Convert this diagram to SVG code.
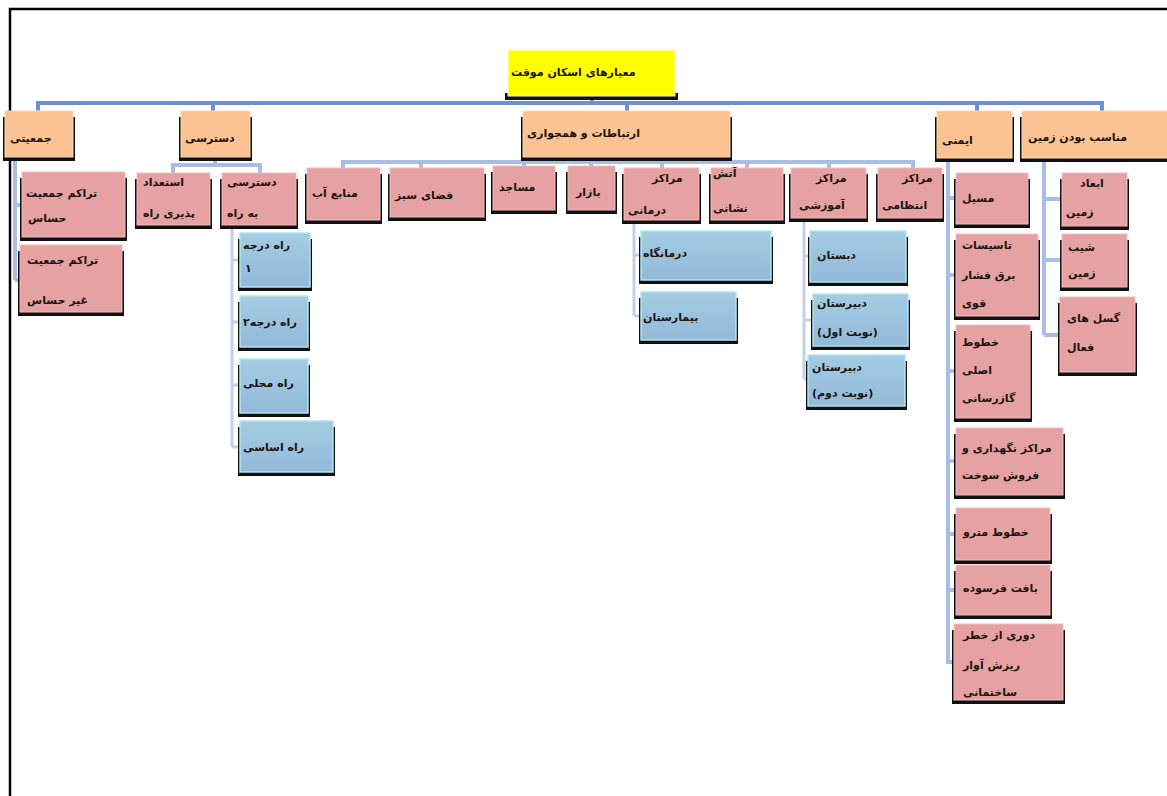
<svg xmlns="http://www.w3.org/2000/svg" width="1167" height="796" viewBox="0 0 1167 796">
<style>
.sh{fill:#111}
.root{fill:#ffff00;stroke:#fffbe0;stroke-width:1}
.or{fill:#fac391;stroke:#fcd8b4;stroke-width:1}
.pk{fill:#e6a2a2;stroke:#efbcbc;stroke-width:1}
.bl{fill:url(#gb);stroke:#b4e4ec;stroke-width:1.5}
text{font-family:"DejaVu Sans","Noto Sans",sans-serif;font-size:11px;font-weight:bold;fill:#1c1410}
.l1{fill:none;stroke:#6e8fd6;stroke-width:4}
.l2{fill:none;stroke:#a9bde6;stroke-width:4}
.l3{fill:none;stroke:#c3d0ea;stroke-width:3}
</style>
<defs>
<linearGradient id="gb" x1="0" y1="0" x2="0" y2="1">
<stop offset="0" stop-color="#a3cde3"/>
<stop offset="1" stop-color="#93b9da"/>
</linearGradient>
</defs>
<rect x="0" y="0" width="1167" height="796" fill="#fff"/>
<path d="M10 796 V9 H1167" fill="none" stroke="#000" stroke-width="2.5"/>

<g id="connectors">
<path class="l1" d="M38 111 V103 H1102 V111 M592 97 V103 M213 103 V111 M627 103 V111 M977 103 V111"/>
<path class="l2" d="M343 168 V162 H913 V168 M627 157 V162 M421 162 V168 M524 162 V166 M591 162 V166 M662 162 V168 M747 162 V168 M829 162 V168"/>
<path class="l2" d="M173 173 V165 H260 V173 M215 157 V165"/>
<path class="l2" d="M15 160 V280 M15 205 H22 M15 280 H20"/>
<path class="l3" d="M232 227 V447 M232 260 H240 M232 322 H240 M232 385 H240 M232 447 H240"/>
<path class="l3" d="M634 222 V316 M634 255 H641 M634 316 H641"/>
<path class="l3" d="M804 220 V379 M804 256 H810 M804 320 H813 M804 379 H808"/>
<path class="l2" d="M948 158 V664 M948 198 H956 M948 275 H956 M948 371 H956 M948 461 H956 M948 534 H956 M948 590 H956 M948 662 H954"/>
<path class="l2" d="M1044 158 V335 M1044 199 H1062 M1044 260 H1062 M1044 335 H1060"/>
</g>

<g id="n-root"><rect class="sh" x="505" y="93" width="173" height="7"/><rect class="root" x="508" y="50" width="167" height="46"/><text x="511" y="76">معیارهای اسکان موقت</text></g>

<g id="n-jamiyati"><rect class="sh" x="3" y="117" width="72" height="44"/><rect class="or" x="5" y="111" width="68" height="46"/><text x="10" y="142">جمعیتی</text></g>
<g id="n-dastresi"><rect class="sh" x="179" y="117" width="73" height="44"/><rect class="or" x="181" y="111" width="69" height="46"/><text x="185" y="142">دسترسی</text></g>
<g id="n-ertebatat"><rect class="sh" x="521" y="117" width="211" height="44"/><rect class="or" x="523" y="111" width="207" height="46"/><text x="527" y="137">ارتباطات و همجواری</text></g>
<g id="n-imeni"><rect class="sh" x="935" y="117" width="79" height="45"/><rect class="or" x="937" y="111" width="75" height="47"/><text x="942" y="144">ایمنی</text></g>
<g id="n-monaseb"><rect class="sh" x="1020" y="117" width="149" height="45"/><rect class="or" x="1022" y="111" width="147" height="47"/><text x="1028" y="141">مناسب بودن زمین</text></g>

<g id="n-tarakom1"><rect class="sh" x="20" y="178" width="107" height="63"/><rect class="pk" x="22" y="172" width="103" height="65"/><text x="26" y="197">تراکم جمعیت</text><text x="28" y="222">حساس</text></g>
<g id="n-tarakom2"><rect class="sh" x="18" y="251" width="106" height="65"/><rect class="pk" x="20" y="245" width="102" height="67"/><text x="27" y="264">تراکم جمعیت</text><text x="27" y="304">غیر حساس</text></g>

<g id="n-esteedad"><rect class="sh" x="135" y="179" width="77" height="50"/><rect class="pk" x="137" y="173" width="73" height="52"/><text x="143" y="186">استعداد</text><text x="143" y="217">پذیری راه</text></g>
<g id="n-dastresi-rah"><rect class="sh" x="220" y="179" width="78" height="50"/><rect class="pk" x="222" y="173" width="74" height="52"/><text x="227" y="186">دسترسی</text><text x="227" y="217">به راه</text></g>

<g id="n-rah1"><rect class="sh" x="238" y="239" width="74" height="52"/><rect class="bl" x="240" y="233" width="70" height="54"/><text x="243" y="249">راه درجه</text><text x="245" y="272">۱</text></g>
<g id="n-rah2"><rect class="sh" x="238" y="302" width="72" height="49"/><rect class="bl" x="240" y="296" width="68" height="51"/><text x="243" y="326">راه درجه۲</text></g>
<g id="n-rahmahali"><rect class="sh" x="238" y="365" width="72" height="52"/><rect class="bl" x="240" y="359" width="68" height="54"/><text x="243" y="387">راه محلی</text></g>
<g id="n-rahasasi"><rect class="sh" x="238" y="427" width="97" height="49"/><rect class="bl" x="240" y="421" width="93" height="51"/><text x="243" y="451">راه اساسی</text></g>

<g id="n-manabe"><rect class="sh" x="305" y="174" width="77" height="50"/><rect class="pk" x="307" y="168" width="73" height="52"/><text x="312" y="197">منابع آب</text></g>
<g id="n-fazasabz"><rect class="sh" x="388" y="174" width="98" height="47"/><rect class="pk" x="390" y="168" width="94" height="49"/><text x="395" y="199">فضای سبز</text></g>
<g id="n-masajed"><rect class="sh" x="491" y="172" width="66" height="42"/><rect class="pk" x="493" y="166" width="62" height="44"/><text x="499" y="191">مساجد</text></g>
<g id="n-bazar"><rect class="sh" x="566" y="172" width="51" height="42"/><rect class="pk" x="568" y="166" width="47" height="44"/><text x="576" y="196">بازار</text></g>
<g id="n-darmani"><rect class="sh" x="622" y="174" width="79" height="50"/><rect class="pk" x="624" y="168" width="75" height="52"/><text x="652" y="182">مراکز</text><text x="628" y="214">درمانی</text></g>
<g id="n-atash"><rect class="sh" x="709" y="174" width="76" height="50"/><rect class="pk" x="711" y="168" width="72" height="52"/><text x="713" y="177">آتش</text><text x="713" y="212">نشانی</text></g>
<g id="n-amoozeshi"><rect class="sh" x="789" y="174" width="79" height="48"/><rect class="pk" x="791" y="168" width="75" height="50"/><text x="816" y="182">مراکز</text><text x="799" y="209">آموزشی</text></g>
<g id="n-entezami"><rect class="sh" x="876" y="174" width="68" height="48"/><rect class="pk" x="878" y="168" width="64" height="50"/><text x="902" y="182">مراکز</text><text x="882" y="209">انتظامی</text></g>

<g id="n-darmangah"><rect class="sh" x="639" y="237" width="134" height="47"/><rect class="bl" x="641" y="231" width="130" height="49"/><text x="643" y="257">درمانگاه</text></g>
<g id="n-bimarestan"><rect class="sh" x="639" y="298" width="99" height="46"/><rect class="bl" x="641" y="292" width="95" height="48"/><text x="643" y="321">بیمارستان</text></g>
<g id="n-dabestan"><rect class="sh" x="808" y="237" width="100" height="49"/><rect class="bl" x="810" y="231" width="96" height="51"/><text x="817" y="259">دبستان</text></g>
<g id="n-dabir1"><rect class="sh" x="811" y="300" width="99" height="50"/><rect class="bl" x="813" y="294" width="95" height="52"/><text x="817" y="307">دبیرستان</text><text x="817" y="336">(نوبت اول)</text></g>
<g id="n-dabir2"><rect class="sh" x="806" y="361" width="101" height="49"/><rect class="bl" x="808" y="355" width="97" height="51"/><text x="812" y="371">دبیرستان</text><text x="812" y="397">(نوبت دوم)</text></g>

<g id="n-masil"><rect class="sh" x="954" y="179" width="76" height="49"/><rect class="pk" x="956" y="173" width="72" height="51"/><text x="962" y="202">مسیل</text></g>
<g id="n-barq"><rect class="sh" x="954" y="240" width="86" height="80"/><rect class="pk" x="956" y="234" width="82" height="82"/><text x="962" y="249">تاسیسات</text><text x="962" y="279">برق فشار</text><text x="962" y="307">قوی</text></g>
<g id="n-gaz"><rect class="sh" x="954" y="331" width="78" height="91"/><rect class="pk" x="956" y="325" width="74" height="93"/><text x="962" y="346">خطوط</text><text x="962" y="374">اصلی</text><text x="962" y="402">گازرسانی</text></g>
<g id="n-sookht"><rect class="sh" x="954" y="434" width="111" height="65"/><rect class="pk" x="956" y="428" width="107" height="67"/><text x="962" y="452">مراکز نگهداری و</text><text x="962" y="479">فروش سوخت</text></g>
<g id="n-metro"><rect class="sh" x="954" y="514" width="98" height="50"/><rect class="pk" x="956" y="508" width="94" height="52"/><text x="963" y="536">خطوط مترو</text></g>
<g id="n-farsoodeh"><rect class="sh" x="954" y="571" width="98" height="48"/><rect class="pk" x="956" y="565" width="94" height="50"/><text x="963" y="592">بافت فرسوده</text></g>
<g id="n-avar"><rect class="sh" x="952" y="630" width="113" height="74"/><rect class="pk" x="954" y="624" width="109" height="76"/><text x="963" y="639">دوری از خطر</text><text x="963" y="669">ریزش آوار</text><text x="963" y="696">ساختمانی</text></g>

<g id="n-abad"><rect class="sh" x="1060" y="179" width="69" height="51"/><rect class="pk" x="1062" y="173" width="65" height="53"/><text x="1080" y="187">ابعاد</text><text x="1066" y="216">زمین</text></g>
<g id="n-shib"><rect class="sh" x="1060" y="240" width="69" height="51"/><rect class="pk" x="1062" y="234" width="65" height="53"/><text x="1068" y="251">شیب</text><text x="1068" y="277">زمین</text></g>
<g id="n-gosal"><rect class="sh" x="1058" y="303" width="79" height="73"/><rect class="pk" x="1060" y="297" width="75" height="75"/><text x="1067" y="322">گسل های</text><text x="1067" y="351">فعال</text></g>
</svg>
